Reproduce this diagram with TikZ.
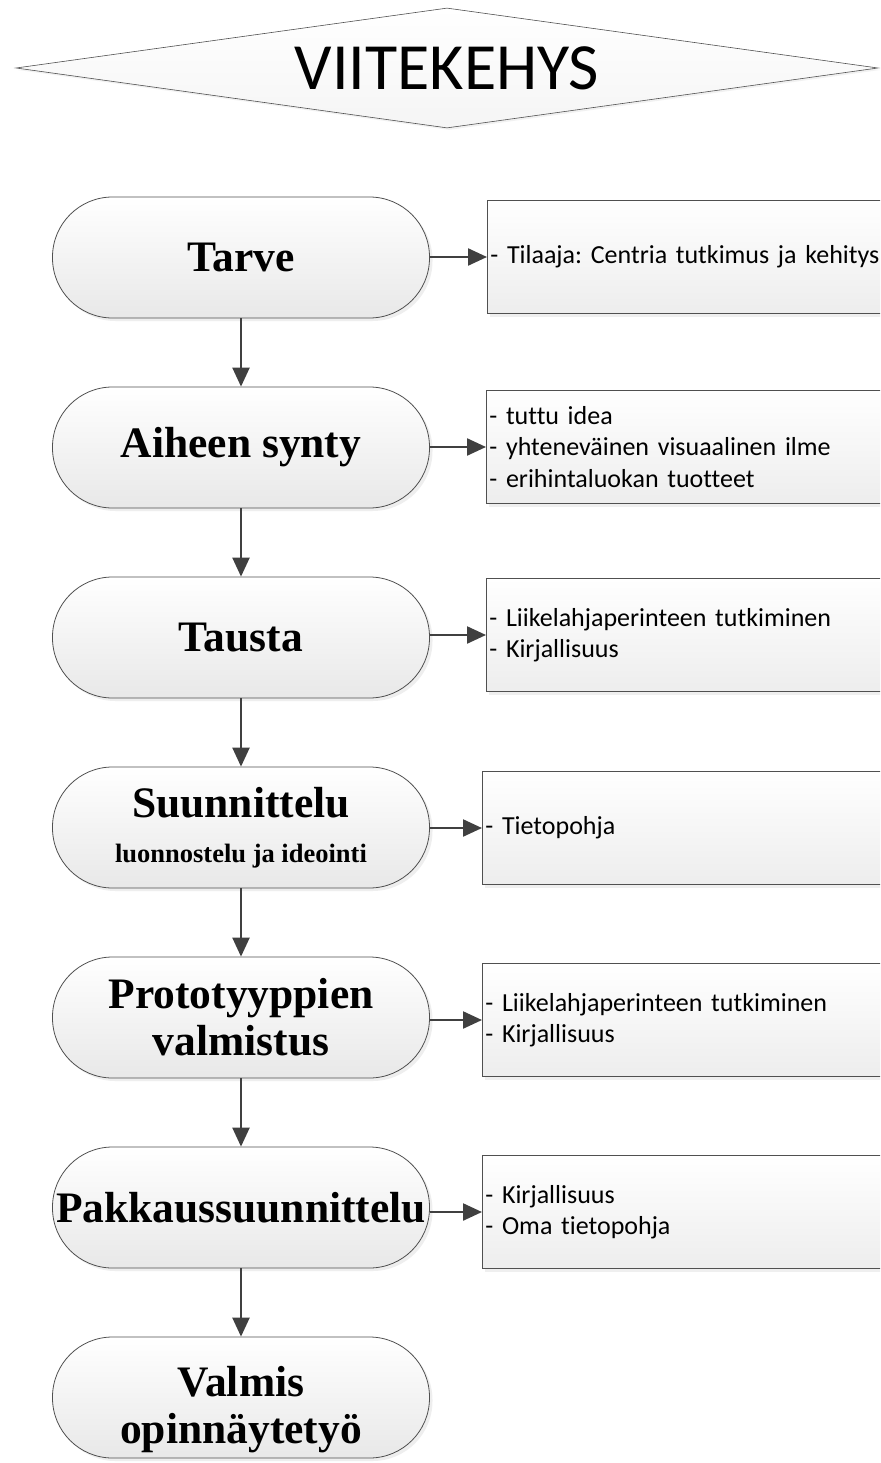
\documentclass[tikz,border=0pt]{standalone}
\usepackage{fontspec}
\setmainfont{Carlito}[Ligatures={NoCommon}]
\newfontfamily\tnr{Liberation Serif}
\usetikzlibrary{shapes.geometric,arrows.meta,shadows}
\definecolor{linegray}{HTML}{505050}
\definecolor{arrgray}{HTML}{404040}
\frenchspacing
\begin{document}
\begin{tikzpicture}[x=1pt,y=-1pt,
  stadium/.style={draw=linegray, line width=0.8pt, rectangle, rounded corners=60pt,
    minimum width=377pt, minimum height=121pt, inner sep=0pt,
    top color=white, bottom color=black!9,
    drop shadow={shadow xshift=3pt,shadow yshift=-3pt,fill=black!13},
    align=center, font=\tnr\bfseries\fontsize{43.5}{47}\selectfont},
  infobox/.style={draw=linegray, line width=0.8pt, rectangle, anchor=west,
    minimum width=420pt, minimum height=113pt, inner xsep=3pt,
    text width=414pt, align=left,
    top color=white, bottom color=black!7,
    drop shadow={shadow xshift=3pt,shadow yshift=-3pt,fill=black!12},
    font=\fontsize{26}{31.5}\selectfont},
  arr/.style={draw=arrgray, line width=2.3pt, -{Triangle[length=19pt,width=17pt]}}
]
\useasboundingbox (0,0) rectangle (880,1463);
\clip (0,0) rectangle (880,1463);
\fill[white] (0,0) rectangle (880,1463);

\node[diamond, aspect=7.18, draw=linegray, line width=0.6pt, minimum width=862pt, minimum height=120pt,
  inner sep=0pt, top color=white, bottom color=black!4,
  drop shadow={shadow xshift=2pt,shadow yshift=-2pt,fill=black!10},
  font=\fontsize{66}{70}\selectfont] (title) at (447,68) {VIITEKEHYS};

\node[stadium] (s1) at (241,257.5) {Tarve};
\node[stadium] (s2) at (241,447.5) {Aiheen synty};
\node[stadium] (s3) at (241,637.5) {Tausta};
\node[stadium] (s4) at (241,827.5) {Suunnittelu\\[-2pt]{\fontsize{26.5}{30}\selectfont luonnostelu ja ideointi}};
\node[stadium] (s5) at (241,1017.5) {Prototyyppien\\valmistus};
\node[stadium] (s6) at (241,1207.5) {Pakkaussuunnittelu};
\node[stadium] (s7) at (241,1397.5) {\rule{0pt}{54pt}Valmis\\opinnäytetyö};

\node[infobox] (b1) at (487,257) {- Tilaaja: Centria tutkimus ja kehitys};
\node[infobox] (b2) at (486,447) {- tuttu idea\\- yhteneväinen visuaalinen ilme\\- erihintaluokan tuotteet};
\node[infobox] (b3) at (486,635) {- Liikelahjaperinteen tutkiminen\\- Kirjallisuus};
\node[infobox] (b4) at (482,828) {- Tietopohja};
\node[infobox] (b5) at (482,1020) {- Liikelahjaperinteen tutkiminen\\- Kirjallisuus};
\node[infobox] (b6) at (482,1212) {- Kirjallisuus\\- Oma tietopohja};

\foreach \a/\b in {s1/s2,s2/s3,s3/s4,s4/s5,s5/s6,s6/s7}
  \draw[arr] (\a.south) -- (\b.north);
\foreach \a/\b in {s1/b1,s2/b2,s3/b3,s4/b4,s5/b5,s6/b6}
  \draw[arr] (\a.east |- \b.west) -- (\b.west);
\end{tikzpicture}
\end{document}
